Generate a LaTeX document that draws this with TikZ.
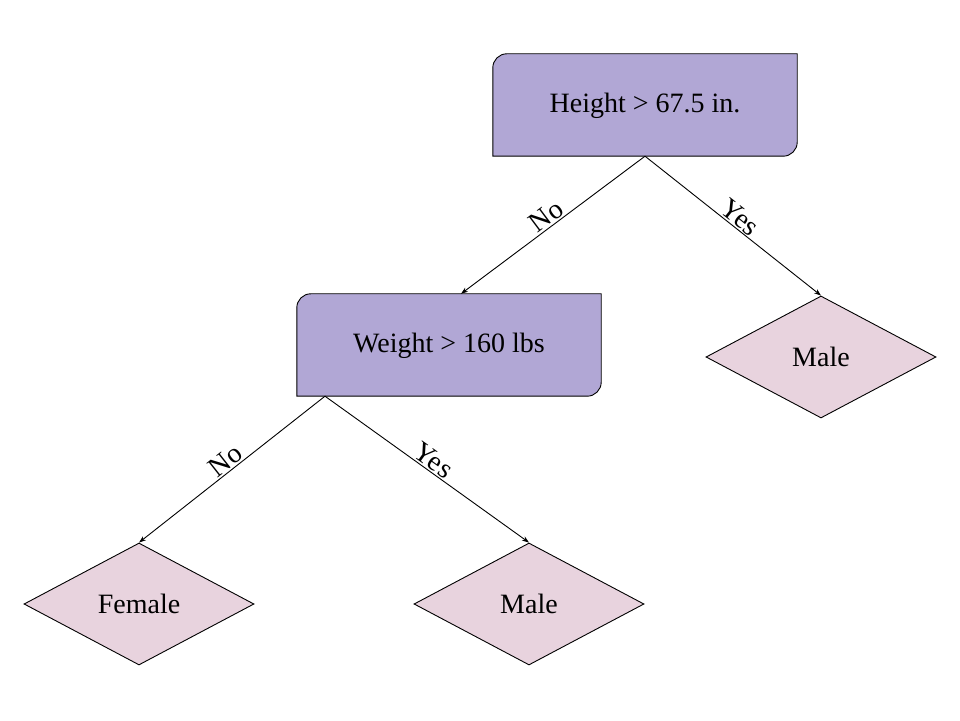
\documentclass[tikz,border=0pt]{standalone}
\usepackage{fontspec}
\setmainfont{Liberation Serif}
\usetikzlibrary{shapes.geometric,arrows.meta,backgrounds}
\definecolor{boxfill}{HTML}{B1A7D5}
\definecolor{leaffill}{HTML}{E8D3DE}
\tikzset{
  testnode/.style={rectangle, draw=none, minimum width=304pt, minimum height=102pt, inner sep=0pt, text height=19pt, text depth=3pt, font=\fontsize{28}{33}\selectfont},
  boxpath/.style={fill=boxfill, draw=black, line width=0.9pt},
  leaf/.style={diamond, fill=leaffill, draw=black, line width=0.9pt, minimum width=230pt, minimum height=122pt, aspect=1.885, inner sep=0pt, font=\fontsize{28}{33}\selectfont},
  edge/.style={draw=black, line width=0.9pt, -{Stealth[length=7pt,width=5pt]}},
  elabel/.style={font=\fontsize{28}{33}\selectfont, sloped, above, inner sep=1.5pt, midway}
}
\newcommand\splitbox[1]{%
  \begin{pgfonlayer}{background}
  \path[boxpath] (#1.south west) -- ([yshift=-14pt]#1.north west)
    arc[start angle=180,end angle=90,radius=14pt] -- (#1.north east)
    -- ([yshift=14pt]#1.south east) arc[start angle=0,end angle=-90,radius=14pt] -- cycle;
  \end{pgfonlayer}}
\begin{document}
\begin{tikzpicture}[x=1pt,y=1pt]
\useasboundingbox (0,0) rectangle (960,720);
\begin{pgfonlayer}{background}
\fill[white] (0,0) rectangle (960,720);
\end{pgfonlayer}
\node[testnode] (h) at (645,615) {Height > 67.5 in.};
\splitbox{h}
\node[testnode] (w) at (449,375) {Weight > 160 lbs};
\splitbox{w}
\node[leaf] (m1) at (821,363) {Male};
\node[leaf] (f) at (139,116) {Female};
\node[leaf] (m2) at (529,116) {Male};
\coordinate (wtop) at ([xshift=12pt]w.north);
\coordinate (wbot) at ([xshift=-124pt]w.south);
\draw[edge] (h.south) -- (wtop) node[elabel] {No};
\draw[edge] (h.south) -- (m1.north) node[elabel] {Yes};
\draw[edge] (wbot) -- (f.north) node[elabel] {No};
\draw[edge] (wbot) -- (m2.north) node[elabel] {Yes};
\end{tikzpicture}
\end{document}
